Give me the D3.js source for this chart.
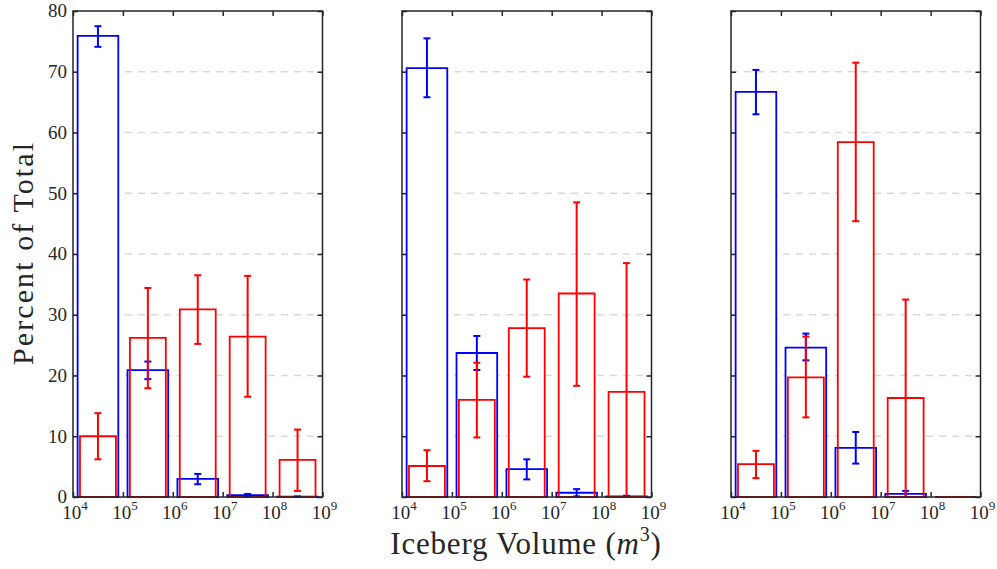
<!DOCTYPE html>
<html>
<head>
<meta charset="utf-8">
<script src="https://cdn.jsdelivr.net/npm/d3@7"></script>
<style>
  body { margin: 0; background: #fff; }
  svg text { font-family: "Liberation Serif", "DejaVu Serif", serif; fill: #262626; }
</style>
</head>
<body>
<div id="chart"></div>
<script>
// bin centres (m^3), one bar pair per half-decade
var binCenters = [Math.pow(10, 4.5), Math.pow(10, 5.5), Math.pow(10, 6.5), Math.pow(10, 7.5), Math.pow(10, 8.5)]
var xTicks     = [1e4, 1e5, 1e6, 1e7, 1e8, 1e9]
var xTickExp   = ['4', '5', '6', '7', '8', '9']
var yTicks     = [0, 10, 20, 30, 40, 50, 60, 70, 80]

// blue series, one row per panel
var blueVals = [[75.9, 20.9, 3.0, 0.3, 0.05], [70.6, 23.7, 4.6, 0.7, 0.1], [66.7, 24.6, 8.1, 0.5, 0.0]]
var blueLo   = [[74.1, 19.4, 2.1, 0.1, 0.0],  [65.8, 20.9, 2.9, 0.1, 0.0], [63.0, 22.5, 5.5, 0.0, 0.0]]
var blueHi   = [[77.5, 22.3, 3.8, 0.5, 0.1],  [75.5, 26.5, 6.2, 1.3, 0.2], [70.3, 26.9, 10.7, 1.0, 0.0]]

// red series, one row per panel
var redVals = [[10.0, 26.2, 30.9, 26.4, 6.1], [5.1, 16.0, 27.8, 33.5, 17.3], [5.4, 19.7, 58.4, 16.3, 0.0]]
var redLo   = [[6.2, 17.9, 25.2, 16.5, 1.0],  [2.6, 9.8, 19.8, 18.3, 0.0],   [3.1, 13.1, 45.4, 0.0, 0.0]]
var redHi   = [[13.8, 34.4, 36.5, 36.4, 11.1], [7.7, 22.1, 35.8, 48.5, 38.5], [7.6, 26.4, 71.5, 32.5, 0.0]]

var W = 997, H = 569
var panelLefts = [73, 402, 731]
var panelWidth = 249.5
var plotTop = 11, plotBottom = 497

var svg = d3.select('#chart').append('svg')
  .attr('width', W).attr('height', H)

var y = d3.scaleLinear().domain([0, 80]).range([plotBottom, plotTop])

function drawPanel(p) {
  var left = panelLefts[p]
  var x = d3.scaleLog().domain([1e4, 1e9]).range([left, left + panelWidth])
  var g = svg.append('g')

  // grid
  g.selectAll('line.grid')
    .data(yTicks.filter(function(d) { return d > 0 && d < 80 }))
    .enter().append('line')
      .attr('x1', left).attr('x2', left + panelWidth)
      .attr('y1', function(d) { return y(d) }).attr('y2', function(d) { return y(d) })
      .attr('stroke', '#d9d9d9').attr('stroke-width', 1.5)
      .attr('stroke-dasharray', '7,6')

  // ticks (drawn under bars)
  var ax = g.append('g').attr('class', 'ax')
  ax.append('g').attr('transform', 'translate(0,' + plotBottom + ')')
    .call(d3.axisBottom(x).tickValues(xTicks).tickSize(-5).tickFormat(''))
  ax.append('g').attr('transform', 'translate(0,' + plotTop + ')')
    .call(d3.axisTop(x).tickValues(xTicks).tickSize(-5).tickFormat(''))
  ax.append('g').attr('transform', 'translate(' + left + ',0)')
    .call(d3.axisLeft(y).tickValues(yTicks).tickSize(-5).tickFormat(''))
  ax.append('g').attr('transform', 'translate(' + (left + panelWidth) + ',0)')
    .call(d3.axisRight(y).tickValues(yTicks).tickSize(-5).tickFormat(''))
  ax.selectAll('.domain').remove()
  ax.selectAll('line').attr('stroke', '#262626').attr('stroke-width', 1.5)

  var series = [
    {vals: blueVals[p], lo: blueLo[p], hi: blueHi[p], color: '#0000ff', w: 0.815},
    {vals: redVals[p],  lo: redLo[p],  hi: redHi[p],  color: '#ff0000', w: 0.72}
  ]

  function x0(c, w) { return x(c / Math.pow(10, w / 2)) }
  function x1(c, w) { return x(c * Math.pow(10, w / 2)) }
  function barPath(d, i, w) {
    var a = x0(binCenters[i], w), b = x1(binCenters[i], w)
    return 'M' + a + ',' + y(0) + 'V' + y(d) + 'H' + b + 'V' + y(0) + 'Z'
  }

  // white fills first so the grid stays hidden inside the bars
  series.forEach(function(s) {
    g.append('g').selectAll('path')
      .data(s.vals)
      .enter().append('path')
        .attr('d', function(d, i) { return barPath(d, i, s.w) })
        .attr('fill', '#fff')
  })

  series.forEach(function(s) {
    g.append('g').selectAll('path')
      .data(s.vals)
      .enter().append('path')
        .attr('d', function(d, i) { return barPath(d, i, s.w) })
        .attr('fill', 'none')
        .attr('stroke', s.color).attr('stroke-width', 1.8)
  })

  // error bars
  series.forEach(function(s) {
    var eg = g.append('g').attr('stroke', s.color).attr('stroke-width', 2)
    s.vals.forEach(function(v, i) {
      if (s.hi[i] - s.lo[i] <= 0) return
      var cx = x(binCenters[i])
      eg.append('line').attr('x1', cx).attr('x2', cx).attr('y1', y(s.lo[i])).attr('y2', y(s.hi[i]))
      eg.append('line').attr('x1', cx - 3.5).attr('x2', cx + 3.5).attr('y1', y(s.lo[i])).attr('y2', y(s.lo[i]))
      eg.append('line').attr('x1', cx - 3.5).attr('x2', cx + 3.5).attr('y1', y(s.hi[i])).attr('y2', y(s.hi[i]))
    })
  })

  // frame
  g.append('rect')
    .attr('x', left).attr('y', plotTop).attr('width', panelWidth).attr('height', plotBottom - plotTop)
    .attr('fill', 'none').attr('stroke', '#262626').attr('stroke-width', 1.5)

  // x tick labels with superscript
  var lab = g.selectAll('text.xt')
    .data(xTicks)
    .enter().append('text')
      .attr('class', 'xt')
      .attr('x', function(d) { return x(d) + 2 })
      .attr('y', plotBottom + 22)
      .attr('text-anchor', 'middle')
      .style('font-size', '19px')
  lab.append('tspan').text('10')
  lab.append('tspan').attr('dy', -9).style('font-size', '13px').text(function(d, i) { return xTickExp[i] })

  // y tick labels only on the first panel
  if (p === 0) {
    g.selectAll('text.yt')
      .data(yTicks)
      .enter().append('text')
        .attr('x', left - 6)
        .attr('y', function(d) { return y(d) })
        .attr('dy', '0.34em')
        .attr('text-anchor', 'end')
        .style('font-size', '19px')
        .text(function(d) { return d })
  }
}

for (var p = 0; p < 3; ++p) drawPanel(p)

// axis titles
svg.append('text')
  .attr('transform', 'translate(33,' + ((plotTop + plotBottom) / 2) + ') rotate(-90)')
  .attr('text-anchor', 'middle')
  .attr('textLength', 222).attr('lengthAdjust', 'spacing')
  .style('font-size', '30px')
  .text('Percent of Total')

var xl = svg.append('text')
  .attr('x', 526).attr('y', 554)
  .attr('text-anchor', 'middle')
  .style('font-size', '31px')
  .style('letter-spacing', '0.8px')
xl.append('tspan').text('Iceberg Volume (')
xl.append('tspan').style('font-style', 'italic').text('m')
xl.append('tspan').attr('dy', -13).style('font-size', '20px').text('3')
xl.append('tspan').attr('dy', 13).text(')')
</script>
</body>
</html>
